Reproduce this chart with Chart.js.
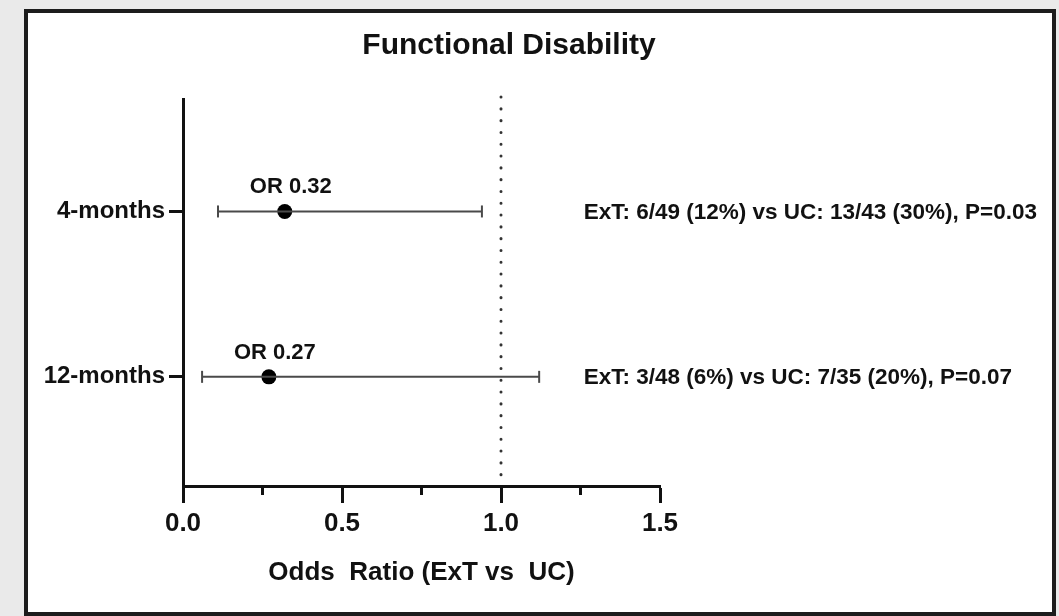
<!DOCTYPE html>
<html>
<head>
<meta charset="utf-8">
<script src="https://cdn.jsdelivr.net/npm/chart.js@4.4.1/dist/chart.umd.min.js"></script>
<style>
  html, body { margin: 0; padding: 0; background: #eaeaea; }
  body { width: 1059px; height: 616px; overflow: hidden; position: relative; }
  #frame {
    position: absolute; left: 24px; top: 9px;
    width: 1024px; height: 599px;
    border: 4px solid #1c1c1c; background: #fff; overflow: hidden;
  }
  #frame canvas { display: block; }
</style>
</head>
<body>
<div id="frame"><canvas id="forest" width="1024" height="599"></canvas></div>
<script>
// rows of the forest plot
const categories = ["4-months", "12-months"];
const oddsRatios = [0.32, 0.27];
const ciLower = [0.11, 0.06];
const ciUpper = [0.94, 1.12];
const orLabels = ["OR 0.32", "OR 0.27"];
const groupNotes = [
  "ExT: 6/49 (12%) vs UC: 13/43 (30%), P=0.03",
  "ExT: 3/48 (6%) vs UC: 7/35 (20%), P=0.07"
];

// x axis ticks
const xTickValues = [0, 0.5, 1.0, 1.5];
const xMinorTicks = [0.25, 0.75, 1.25];
const noEffect = 1.0;

const chartTitle = "Functional Disability";

Chart.defaults.font.family = "'Liberation Sans', Arial, sans-serif";
Chart.defaults.color = "#111";

// confidence interval whiskers, one line per row
const ciSets = categories.map((c, i) => ({
  type: "line",
  data: [{ x: ciLower[i], y: i + 1 }, { x: ciUpper[i], y: i + 1 }],
  borderColor: "#4a4a4a",
  borderWidth: 2,
  pointStyle: "line",
  pointRotation: 90,
  pointRadius: 6,
  pointBorderWidth: 2,
  pointBorderColor: "#4a4a4a",
  showLine: true,
  fill: false
}));

const pointSet = {
  type: "scatter",
  data: oddsRatios.map((v, i) => ({ x: v, y: i + 1 })),
  pointRadius: 7.5,
  pointBackgroundColor: "#000",
  pointBorderColor: "#000",
  pointBorderWidth: 0
};

// title, dotted reference line, minor ticks and the text labels
const extras = {
  id: "extras",
  beforeDatasetsDraw(chart) {
    const ctx = chart.ctx;
    const x = chart.scales.x.getPixelForValue(noEffect);
    ctx.save();
    ctx.strokeStyle = "#333";
    ctx.lineWidth = 3;
    ctx.lineCap = "round";
    ctx.setLineDash([0.1, 11.7]);
    ctx.beginPath();
    ctx.moveTo(x, chart.chartArea.top - 2);
    ctx.lineTo(x, chart.chartArea.bottom);
    ctx.stroke();
    ctx.restore();
  },
  afterDraw(chart) {
    const ctx = chart.ctx;
    const xs = chart.scales.x;
    const ys = chart.scales.y;
    ctx.save();

    // title sits over the whole figure, not only the plot area
    ctx.fillStyle = "#111";
    ctx.font = "bold 30px 'Liberation Sans', Arial, sans-serif";
    ctx.textAlign = "center";
    ctx.textBaseline = "middle";
    ctx.fillText(chartTitle, 481, 33);

    ctx.strokeStyle = "#111";
    ctx.lineWidth = 3;
    xMinorTicks.forEach(v => {
      const px = xs.getPixelForValue(v);
      ctx.beginPath();
      ctx.moveTo(px, xs.top);
      ctx.lineTo(px, xs.top + 9);
      ctx.stroke();
    });

    ctx.font = "bold 22px 'Liberation Sans', Arial, sans-serif";
    ctx.textAlign = "center";
    ctx.textBaseline = "alphabetic";
    orLabels.forEach((t, i) => {
      const px = xs.getPixelForValue(oddsRatios[i]);
      const py = ys.getPixelForValue(i + 1);
      ctx.fillText(t, px + 6, py - 18);
    });

    ctx.font = "bold 22.5px 'Liberation Sans', Arial, sans-serif";
    ctx.textAlign = "left";
    ctx.textBaseline = "middle";
    groupNotes.forEach((t, i) => {
      const py = ys.getPixelForValue(i + 1);
      ctx.fillText(t, xs.getPixelForValue(1.26), py + 1);
    });
    ctx.restore();
  }
};

new Chart(document.getElementById("forest"), {
  data: { datasets: [...ciSets, pointSet] },
  plugins: [extras],
  options: {
    responsive: false,
    animation: false,
    layout: { padding: { left: 0, right: 392, top: 86, bottom: 0 } },
    plugins: {
      legend: { display: false },
      tooltip: { enabled: false },
      title: { display: false }
    },
    scales: {
      x: {
        type: "linear",
        min: 0,
        max: 1.5,
        afterBuildTicks: s => { s.ticks = xTickValues.map(v => ({ value: v })); },
        afterFit: s => { s.height = 126; },
        ticks: {
          callback: v => Number(v).toFixed(1),
          font: { size: 26, weight: "bold" },
          color: "#111",
          padding: 5,
          maxRotation: 0
        },
        grid: { drawOnChartArea: false, tickLength: 17, tickWidth: 3, tickColor: "#111" },
        border: { color: "#111", width: 3 },
        title: {
          display: true,
          text: "Odds  Ratio (ExT vs  UC)",
          color: "#111",
          font: { size: 26, weight: "bold" },
          padding: { top: 0, bottom: 24 }
        }
      },
      y: {
        type: "linear",
        reverse: true,
        min: 0.32,
        max: 2.66,
        afterBuildTicks: s => { s.ticks = categories.map((c, i) => ({ value: i + 1 })); },
        afterFit: s => { s.width = 155; },
        ticks: {
          callback: v => categories[v - 1],
          font: { size: 24, weight: "bold" },
          color: "#111",
          padding: 4
        },
        grid: { drawOnChartArea: false, tickLength: 14, tickWidth: 3, tickColor: "#111" },
        border: { color: "#111", width: 3 }
      }
    }
  }
});
</script>
</body>
</html>
